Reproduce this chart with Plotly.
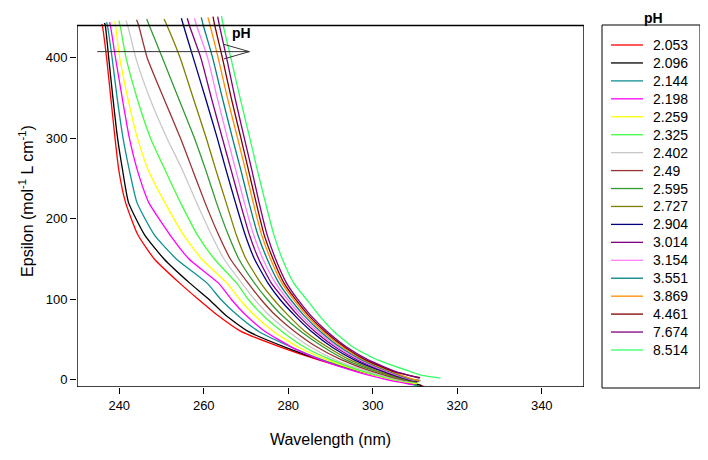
import plotly.graph_objects as go

# ---------------- data ----------------
ph_labels = ["2.053", "2.096", "2.144", "2.198", "2.259", "2.325", "2.402", "2.49", "2.595",
             "2.727", "2.904", "3.014", "3.154", "3.551", "3.869", "4.461", "7.674", "8.514"]

colors = ["#ff0000", "#000000", "#109090", "#ff00ff", "#ffff00", "#40ff40", "#c8c8c8", "#993333",
          "#339933", "#808000", "#000080", "#800080", "#ff80ff", "#008080", "#ff8c00", "#800000",
          "#800080", "#33ff66"]

# epsilon levels at which the wavelength of every curve was read
eps_levels = [440, 400, 350, 300, 260, 220, 180, 150, 120, 100, 80, 60, 40, 25, 10]

# top end of each curve (slightly above the frame)
head_wl = [235.9, 236.5, 237.0, 237.7, 238.9, 239.9, 241.6, 244.1, 246.5,
           250.6, 254.7, 256.1, 257.8, 259.4, 261.0, 262.2, 263.3, 264.2]
head_eps = [442, 443, 444, 444, 445, 446, 446, 447, 448, 448, 449, 449, 449, 450, 450, 451, 451, 452]

wl_2053 = [236.0, 237.0, 238.0, 239.0, 239.9, 241.5, 244.4, 248.3, 254.3, 258.7, 263.3, 268.8, 278.5, 287.0, 297.0]
wl_2096 = [236.7, 237.5, 238.5, 239.6, 240.8, 242.2, 246.0, 250.6, 256.7, 261.2, 265.2, 270.5, 279.5, 287.5, 297.5]
wl_2144 = [237.2, 238.3, 239.5, 240.9, 242.4, 244.2, 248.3, 253.5, 260.8, 264.0, 268.0, 273.0, 281.0, 288.0, 297.5]
wl_2198 = [237.9, 239.1, 240.7, 242.4, 244.3, 247.0, 252.0, 256.5, 263.5, 266.5, 270.0, 274.5, 281.0, 287.5, 296.0]
wl_2259 = [239.1, 240.1, 242.0, 244.3, 246.9, 250.8, 255.2, 259.5, 265.5, 268.5, 272.0, 276.5, 282.5, 289.0, 297.5]
wl_2325 = [240.2, 241.6, 244.2, 247.4, 250.9, 254.5, 258.5, 262.5, 267.8, 270.5, 274.0, 278.5, 284.0, 290.0, 298.0]
wl_2402 = [242.0, 243.9, 247.2, 251.3, 255.0, 258.3, 261.8, 264.8, 269.0, 272.0, 275.5, 280.0, 285.5, 291.0, 299.0]
wl_2490 = [244.6, 246.6, 250.5, 254.5, 257.4, 260.3, 263.5, 266.3, 270.5, 273.5, 277.0, 281.5, 287.0, 292.5, 300.0]
wl_2595 = [247.1, 250.2, 254.0, 257.8, 260.5, 263.0, 265.8, 268.3, 272.0, 275.0, 278.5, 283.0, 288.5, 293.5, 301.0]
wl_2727 = [251.3, 254.4, 257.5, 260.6, 262.9, 265.3, 267.7, 270.0, 273.5, 276.5, 280.0, 284.0, 289.5, 294.5, 301.5]
wl_2904 = [255.2, 257.5, 260.4, 263.2, 265.3, 267.5, 269.8, 272.0, 275.2, 278.0, 281.5, 285.5, 290.5, 295.5, 302.5]
wl_3014 = [256.6, 259.3, 261.8, 264.4, 266.5, 268.6, 270.8, 273.0, 276.0, 279.0, 282.3, 286.3, 291.3, 296.3, 303.0]
wl_3154 = [258.3, 260.9, 263.2, 265.6, 267.6, 269.6, 271.8, 274.0, 277.0, 279.8, 283.0, 287.0, 291.8, 296.8, 303.5]
wl_3551 = [259.9, 262.1, 264.4, 266.8, 268.8, 270.7, 272.8, 275.0, 277.8, 280.5, 283.7, 287.6, 292.4, 297.3, 304.0]
wl_3869 = [261.5, 263.4, 265.6, 268.0, 269.9, 271.7, 273.7, 275.8, 278.5, 281.2, 284.3, 288.2, 293.0, 297.8, 304.5]
wl_4461 = [262.6, 264.4, 266.5, 268.8, 270.6, 272.4, 274.3, 276.4, 279.0, 281.7, 284.8, 288.7, 293.5, 298.2, 305.0]
wl_7674 = [263.7, 265.4, 267.4, 269.6, 271.4, 273.1, 275.0, 277.0, 279.6, 282.2, 285.3, 289.2, 294.0, 298.8, 305.5]
wl_8514 = [264.6, 266.4, 268.6, 270.9, 272.7, 274.6, 276.6, 278.6, 281.3, 284.3, 287.3, 290.8, 295.5, 301.0, 309.0]

# long-wavelength tails of each curve
tail_wl = [[305.5, 312.0], [305.5, 311.5], [305.0, 311.7], [303.5, 309.5], [305.0, 310.5], [305.5, 310.8],
           [306.0, 310.5], [307.0, 311.0], [307.5, 310.5], [308.0, 310.5], [308.5, 310.5], [309.0, 310.8],
           [309.3, 311.0], [309.6, 311.3], [310.0, 311.2], [311.2], [311.0], [312.0, 316.0]]
tail_eps = [[0, -8], [0, -7], [0, -9], [0, -6], [0, -5], [0, -4],
            [0, -3], [0, -2], [0, -3], [0, -3], [0, -2], [0, -1.5],
            [0, -1], [0, -1], [0, -1], [2.5], [2], [5, 2]]

series_wl = [wl_2053, wl_2096, wl_2144, wl_2198, wl_2259, wl_2325, wl_2402, wl_2490, wl_2595,
             wl_2727, wl_2904, wl_3014, wl_3154, wl_3551, wl_3869, wl_4461, wl_7674, wl_8514]

# arrow showing increasing pH
arrow_wl = [234.8, 270.8]
arrow_eps = 407.5

FONT = "Arial, Liberation Sans, sans-serif"

# page is drawn with an 8px body margin: the figure is sized to fit inside the window
W, H = 700, 452
ML, MR, MT, MB = 69, 124, 7, 73
plot_w = W - ML - MR
plot_h = H - MT - MB


def px_x(page_x):
    """page pixel -> paper x"""
    return (page_x - 8 - ML) / plot_w


def px_y(page_y):
    """page pixel -> paper y"""
    return (H - MB - (page_y - 8)) / plot_h


fig = go.Figure()
for i, lab in enumerate(ph_labels):
    xs = [head_wl[i]] + series_wl[i] + tail_wl[i]
    ys = [head_eps[i]] + eps_levels + tail_eps[i]
    fig.add_trace(go.Scatter(x=xs, y=ys, mode="lines", name=lab, showlegend=False,
                             line=dict(color=colors[i], width=1.3, shape="spline", smoothing=0.5)))

# frame of the plot
fig.add_shape(type="rect", xref="x", yref="y", x0=230, x1=350, y0=-9, y1=440,
              line=dict(color="black", width=1.4), layer="above")
# arrow
fig.add_shape(type="line", xref="x", yref="y", x0=arrow_wl[0], x1=arrow_wl[1],
              y0=arrow_eps, y1=arrow_eps, line=dict(color="#333333", width=1))
fig.add_shape(type="path", xref="x", yref="y",
              path=f"M {arrow_wl[1]-6},{arrow_eps+9} L {arrow_wl[1]},{arrow_eps} L {arrow_wl[1]-6},{arrow_eps-9}",
              line=dict(color="#333333", width=1))
fig.add_annotation(x=268.9, y=431, xref="x", yref="y", text="<b>pH</b>", showarrow=False,
                   font=dict(family=FONT, size=14, color="black"))

# legend (box, title, line samples and labels)
fig.add_shape(type="rect", xref="paper", yref="paper",
              x0=px_x(602), x1=px_x(700), y0=px_y(388), y1=px_y(25),
              line=dict(color="black", width=1), fillcolor="white")
fig.add_annotation(x=px_x(653), y=px_y(8), xref="paper", yref="paper", text="<b>pH</b>",
                   showarrow=False, xanchor="center", yanchor="top",
                   font=dict(family=FONT, size=14, color="black"))
for i, lab in enumerate(ph_labels):
    yy = px_y(45 + i * 17.94)
    fig.add_shape(type="line", xref="paper", yref="paper", x0=px_x(611), x1=px_x(643),
                  y0=yy, y1=yy, line=dict(color=colors[i], width=1.3))
    fig.add_annotation(x=px_x(651), y=yy, xref="paper", yref="paper", text=lab, showarrow=False,
                       xanchor="left", yanchor="middle",
                       font=dict(family=FONT, size=14, color="black"))

fig.update_layout(
    width=W, height=H,
    margin=dict(l=ML, r=MR, t=MT, b=MB),
    paper_bgcolor="white", plot_bgcolor="white",
    font=dict(family=FONT, size=13, color="black"),
    showlegend=False,
    xaxis=dict(range=[230, 350], tickvals=[240, 260, 280, 300, 320, 340],
               showgrid=False, zeroline=False, showline=False,
               ticks="outside", ticklen=6, tickcolor="black", tickwidth=1,
               tickfont=dict(family=FONT, size=13),
               title=dict(text="Wavelength (nm)", font=dict(family=FONT, size=16), standoff=22)),
    yaxis=dict(range=[-9, 453], tickvals=[0, 100, 200, 300, 400],
               showgrid=False, zeroline=False, showline=False,
               ticks="outside", ticklen=6, tickcolor="black", tickwidth=1,
               tickfont=dict(family=FONT, size=13),
               title=dict(text="Epsilon (mol<sup>-1</sup> L cm<sup>-1</sup>)",
                          font=dict(family=FONT, size=16), standoff=8)),
)

fig.write_html("out.html")
